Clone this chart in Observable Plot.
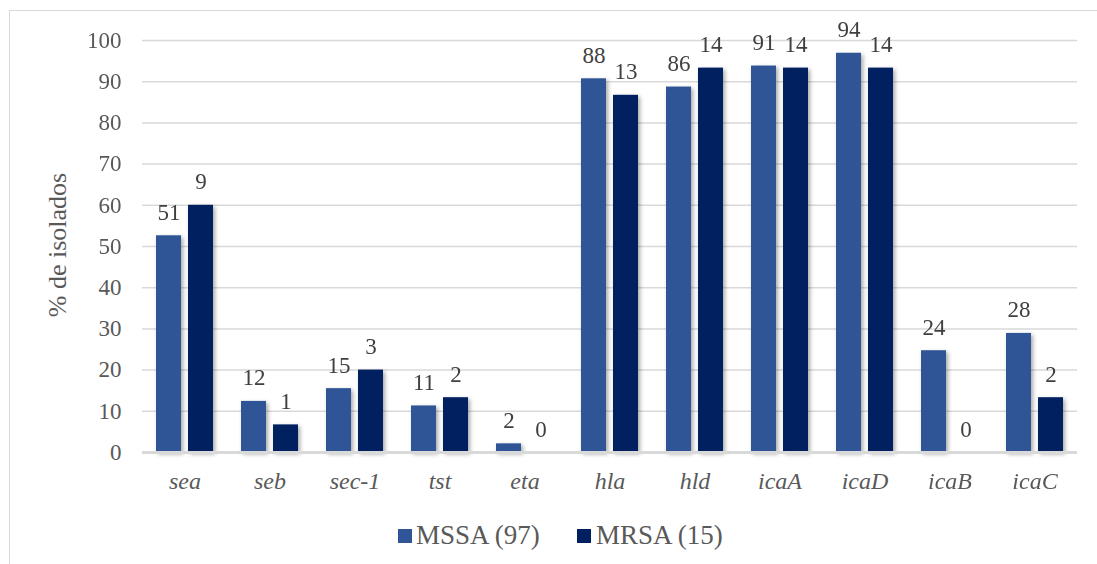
<!DOCTYPE html>
<html>
<head>
<meta charset="utf-8">
<script src="https://cdn.jsdelivr.net/npm/d3@7"></script>
<script src="https://cdn.jsdelivr.net/npm/@observablehq/plot@0.6"></script>
<style>
  body { margin: 0; background: #fff; font-family: 'Liberation Serif', serif; }
  #frame { position: absolute; left: 9px; top: 10px; width: 1088px; height: 554px; border-left: 1px solid #d9d9d9; border-top: 1px solid #d9d9d9; box-sizing: border-box; }
  #chart { position: absolute; left: 0; top: 0; }
  #ytitle { position: absolute; left: 58px; top: 245px; transform: translate(-50%, -50%) rotate(-90deg); font-size: 26px; color: #595959; white-space: nowrap; }
  #legend { position: absolute; top: 518px; left: 0; width: 1097px; height: 36px; font-size: 27px; color: #595959; }
  .sw { position: absolute; width: 14px; height: 14px; top: 11px; }
  .lt { position: absolute; top: 0; line-height: 34px; white-space: nowrap; }
</style>
</head>
<body>
<div id="frame"></div>
<div id="chart"></div>
<div id="ytitle" style="font-family:'Liberation Serif', serif">% de isolados</div>
<div id="legend" style="font-family:'Liberation Serif', serif"></div>
<script>
const genes = ["sea", "seb", "sec-1", "tst", "eta", "hla", "hld", "icaA", "icaD", "icaB", "icaC"];
const seriesNames = ["MSSA (97)", "MRSA (15)"];
const seriesColors = ["#2F5597", "#002060"];
const mssaPct = [52.6, 12.4, 15.5, 11.3, 2.1, 90.7, 88.7, 93.8, 96.9, 24.7, 28.9];
const mrsaPct = [60.0, 6.7, 20.0, 13.3, 0.0, 86.7, 93.3, 93.3, 93.3, 0.0, 13.3];
const mssaCount = [51, 12, 15, 11, 2, 88, 86, 91, 94, 24, 28];
const mrsaCount = [9, 1, 3, 2, 0, 13, 14, 14, 14, 0, 2];
const yTicks = [0, 10, 20, 30, 40, 50, 60, 70, 80, 90, 100];

const FONT = "'Liberation Serif', serif";

const data = [];
genes.forEach((g, i) => {
  data.push({gene: g, series: seriesNames[0], pct: mssaPct[i], n: mssaCount[i]});
  data.push({gene: g, series: seriesNames[1], pct: mrsaPct[i], n: mrsaCount[i]});
});

const chart = Plot.plot({
  width: 1097,
  height: 500,
  marginLeft: 139,
  marginRight: 18,
  marginTop: 40,
  marginBottom: 48,
  style: {fontFamily: FONT, background: "transparent", overflow: "visible"},
  fx: {domain: genes, padding: 0},
  x: {domain: seriesNames, paddingInner: 0.212, paddingOuter: 0.4015, axis: null},
  y: {domain: [0, 100]},
  color: {domain: seriesNames, range: seriesColors},
  marks: [
    Plot.ruleY(yTicks.filter(d => d > 0), {stroke: "#d9d9d9", strokeWidth: 1.5}),
    Plot.barY(data, {fx: "gene", x: "series", y: "pct", fill: "series"}),
    Plot.ruleY([0], {stroke: "#d9d9d9", strokeWidth: 3}),
    Plot.text(data, {fx: "gene", x: "series", y: "pct", text: "n", lineAnchor: "bottom", dy: -16, fontSize: 23, fill: "#404040", fontFamily: FONT}),
    Plot.axisY({ticks: yTicks, tickSize: 0, tickPadding: 21, fontSize: 23, fill: "#595959", label: null, fontFamily: FONT}),
    Plot.axisFx({tickSize: 0, tickPadding: 19, fontSize: 24, fontStyle: "italic", fill: "#595959", label: null, anchor: "bottom", fontFamily: FONT})
  ]
});
document.getElementById("chart").appendChild(chart);
chart.querySelectorAll('g[aria-label="bar"]').forEach(g => {
  g.style.filter = "drop-shadow(2px 2px 2px rgba(0,0,0,0.35))";
});

const legend = document.getElementById("legend");
const legendPos = [{sw: 398, tx: 416}, {sw: 577, tx: 596}];
seriesNames.forEach((name, i) => {
  const s = document.createElement("div");
  s.className = "sw";
  s.style.left = legendPos[i].sw + "px";
  s.style.background = seriesColors[i];
  legend.appendChild(s);
  const t = document.createElement("div");
  t.className = "lt";
  t.style.left = legendPos[i].tx + "px";
  t.textContent = name;
  legend.appendChild(t);
});
</script>
</body>
</html>
